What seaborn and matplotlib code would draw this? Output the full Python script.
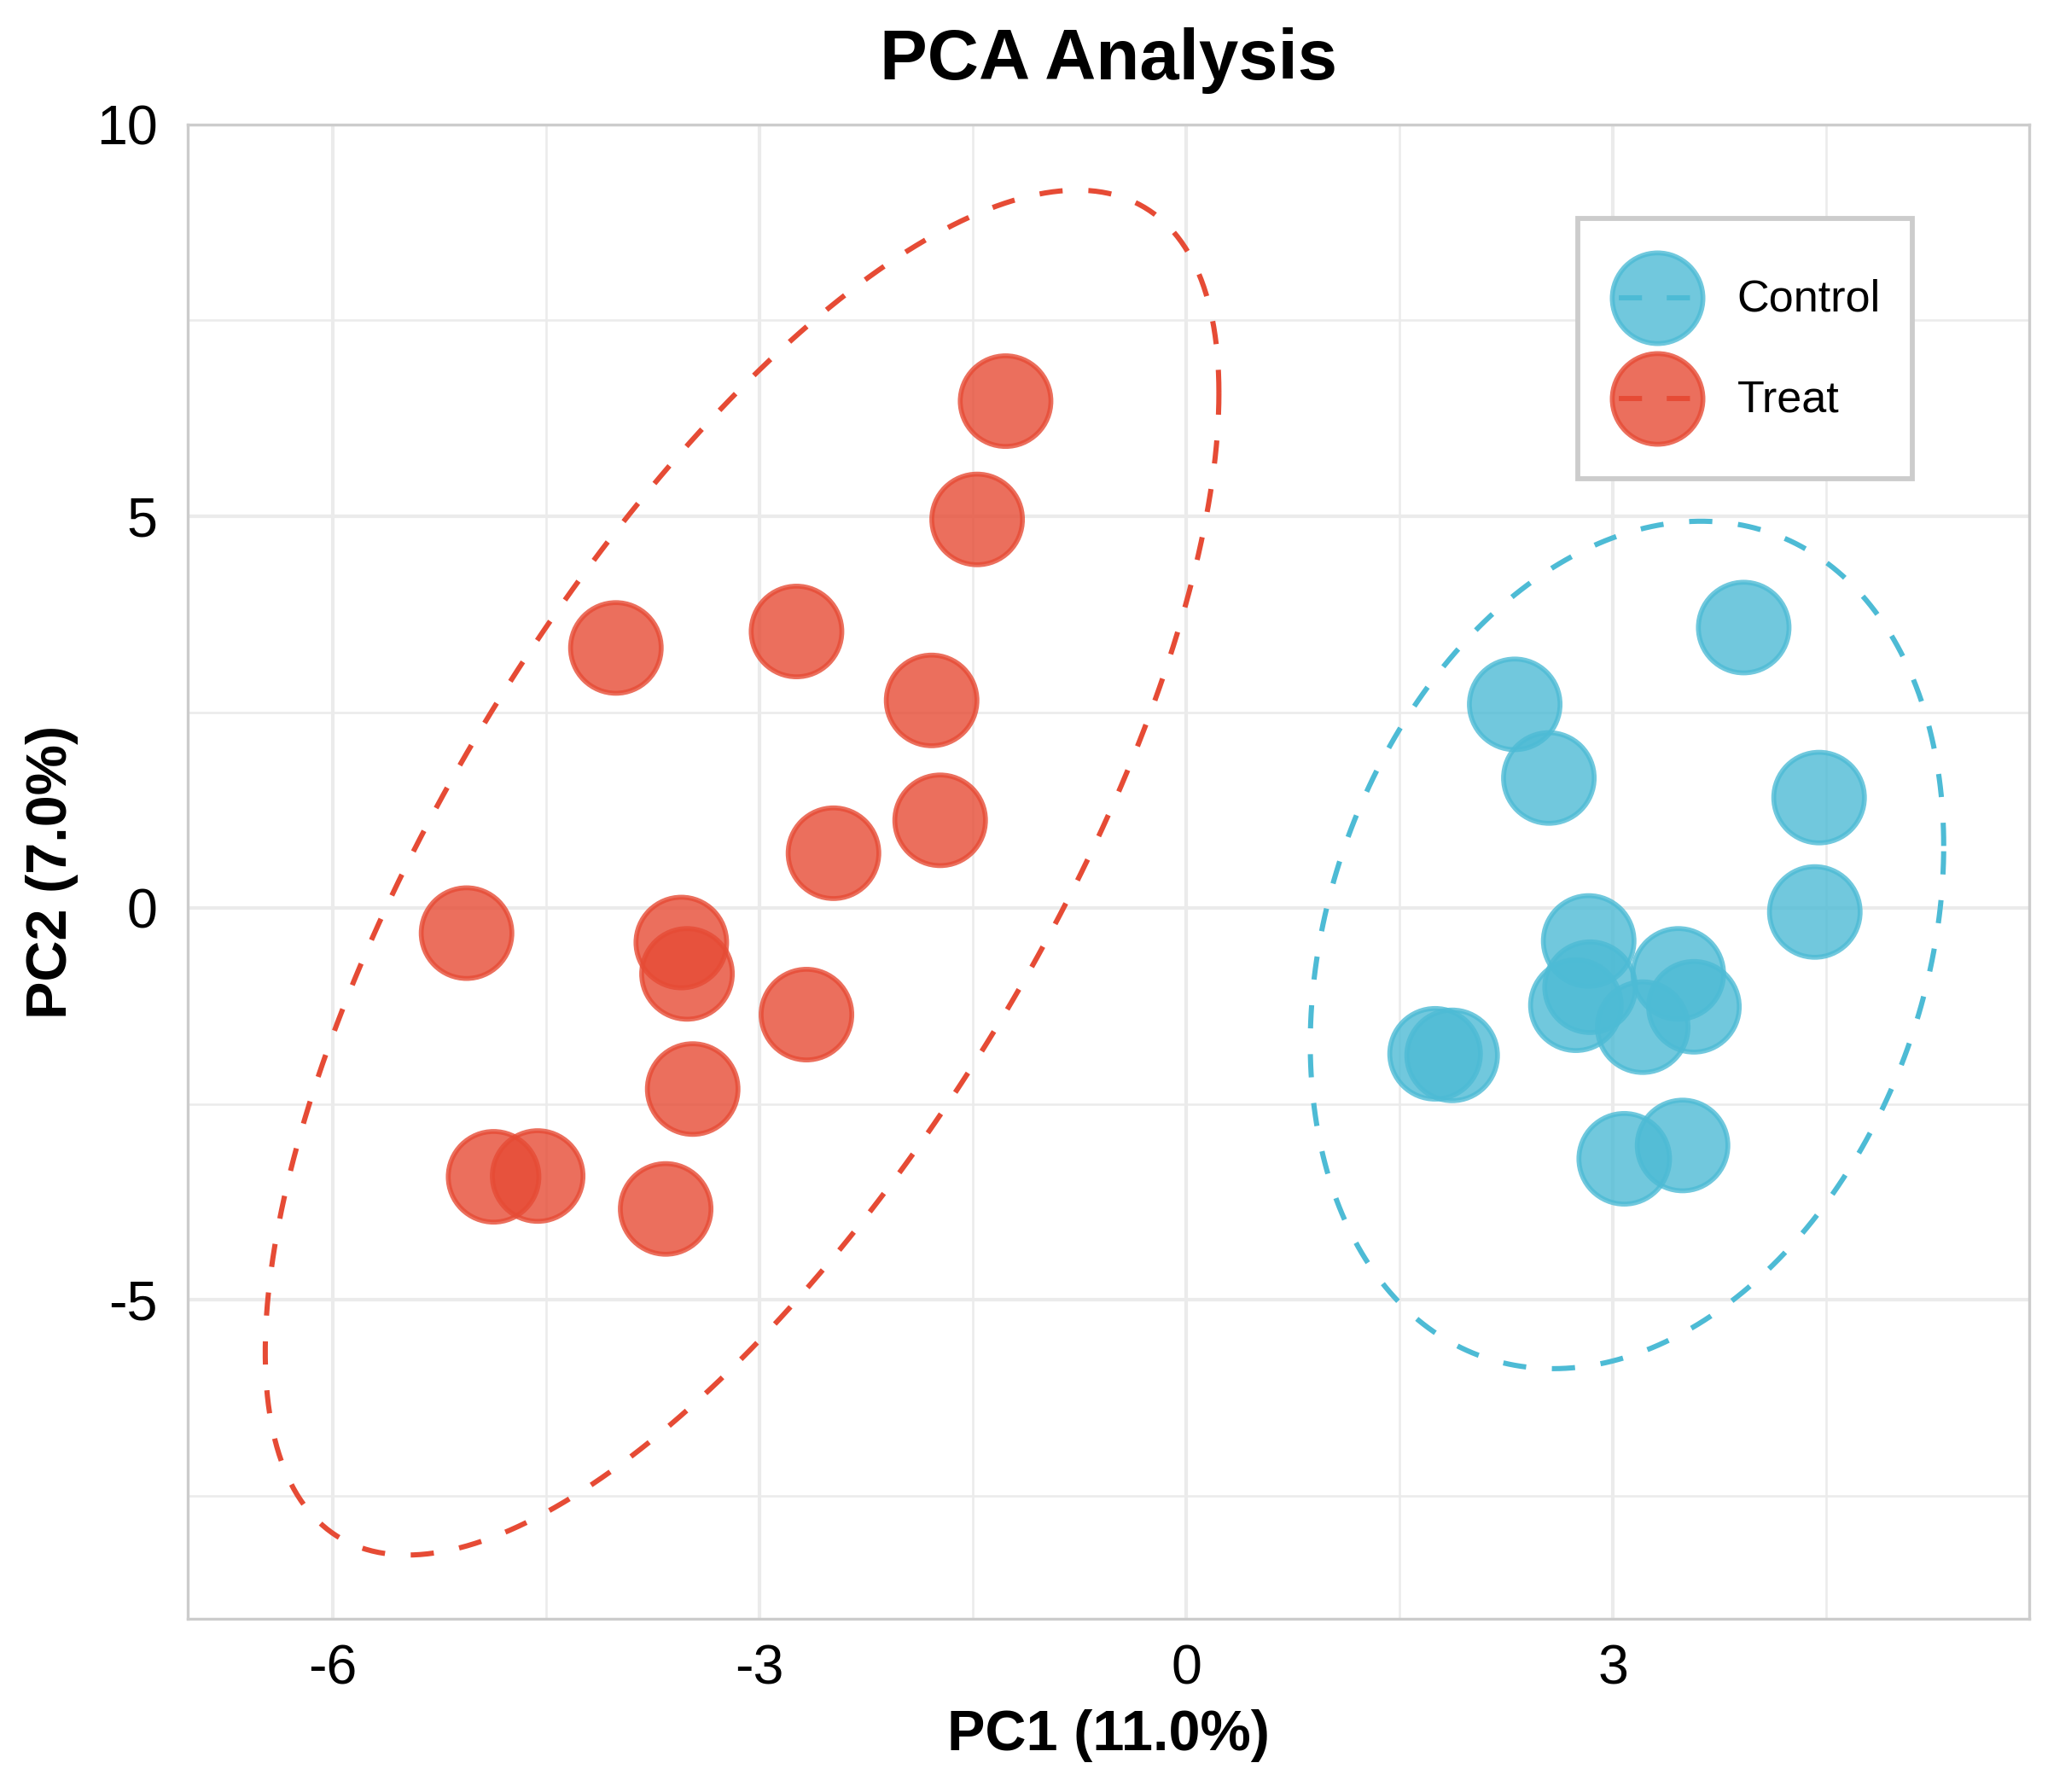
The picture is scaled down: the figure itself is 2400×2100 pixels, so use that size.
import numpy as np
import pandas as pd
import matplotlib
matplotlib.use("Agg")
import matplotlib.pyplot as plt
from matplotlib.lines import Line2D
from matplotlib.legend_handler import HandlerBase
from matplotlib.ticker import MultipleLocator
import seaborn as sns

groups = ["Control", "Treat"]
colors = {"Control": "#4DBBD5", "Treat": "#E64B35"}

control_pc1 = [3.92, 2.31, 2.55, 4.45, 4.42, 2.83, 3.46, 2.84, 2.74, 3.57, 3.21, 1.75, 1.87, 3.49, 3.08]
control_pc2 = [3.58, 2.60, 1.66, 1.41, -0.05, -0.42, -0.84, -1.01, -1.24, -1.26, -1.52, -1.86, -1.88, -3.03, -3.20]

treat_pc1 = [-1.27, -1.47, -2.74, -4.01, -1.79, -1.73, -2.48, -5.06, -3.55, -3.51, -2.67, -3.47, -4.87, -4.56, -3.66]
treat_pc2 = [6.47, 4.96, 3.53, 3.32, 2.65, 1.12, 0.70, -0.32, -0.44, -0.84, -1.36, -2.31, -3.43, -3.42, -3.84]

x_label = "PC1 (11.0%)"
y_label = "PC2 (7.0%)"

df = pd.DataFrame({
    "PC1": control_pc1 + treat_pc1,
    "PC2": control_pc2 + treat_pc2,
    "group": ["Control"] * len(control_pc1) + ["Treat"] * len(treat_pc1),
})


def ellipse_path(x, y, level=0.95, n=300):
    # 95% confidence ellipse, F-based radius like ggplot's stat_ellipse
    pts = np.column_stack([x, y])
    center = pts.mean(axis=0)
    cov = np.cov(pts, rowvar=False)
    dfd = len(x) - 1
    fq = dfd / 2 * ((1 - level) ** (-2 / dfd) - 1)
    radius = np.sqrt(2 * fq)
    t = np.linspace(0, 2 * np.pi, n)
    circle = np.column_stack([np.cos(t), np.sin(t)])
    chol = np.linalg.cholesky(cov)
    return center + radius * circle @ chol.T


class KeyHandler(HandlerBase):
    # point + dashed line key, centred in the key box
    def create_artists(self, legend, orig_handle, xdescent, ydescent,
                       width, height, fontsize, trans):
        marker, line = orig_handle
        yc = height / 2 - ydescent
        x0, x1 = -xdescent, width - xdescent
        m = Line2D([(x0 + x1) / 2], [yc])
        m.update_from(marker)
        l = Line2D([x0, x1], [yc, yc])
        l.update_from(line)
        m.set_transform(trans)
        l.set_transform(trans)
        return [m, l]


sns.set_theme(style="white")
plt.rcParams['font.family'] = ['Liberation Sans', 'DejaVu Sans']
plt.rcParams['axes.unicode_minus'] = False
plt.rcParams['text.color'] = 'black'

fig = plt.figure(figsize=(8, 7), dpi=300)
ax = fig.add_axes([0.0917, 0.0967, 0.8993, 0.8338])

sns.scatterplot(data=df, x="PC1", y="PC2", hue="group", hue_order=groups,
                palette=colors, s=650, alpha=0.8, edgecolor="face",
                linewidth=1.37, legend=False, ax=ax, zorder=3)

for g in groups:
    sub = df[df["group"] == g]
    e = ellipse_path(sub["PC1"].values, sub["PC2"].values)
    ax.plot(e[:, 0], e[:, 1], color=colors[g], lw=1.45,
            linestyle=(0, (4.5, 5.0)), zorder=4)

ax.set_xlim(-7.02, 5.93)
ax.set_ylim(-9.07, 10.0)
ax.xaxis.set_major_locator(MultipleLocator(3))
ax.xaxis.set_minor_locator(MultipleLocator(1.5))
ax.yaxis.set_major_locator(MultipleLocator(5))
ax.yaxis.set_minor_locator(MultipleLocator(2.5))
ax.set_axisbelow(True)
ax.grid(which="major", color="#EBEBEB", lw=1.0)
ax.grid(which="minor", color="#EBEBEB", lw=0.6)
for sp in ax.spines.values():
    sp.set_visible(True)
    sp.set_color("#CCCCCC")
    sp.set_linewidth(0.8)

ax.tick_params(axis="both", which="both", length=0, labelsize=15.5, labelcolor="black")
ax.tick_params(axis="x", pad=7)
ax.tick_params(axis="y", pad=8.5)

ax.set_xlabel(x_label, fontsize=16, fontweight="bold", labelpad=4, color="black")
ax.set_ylabel(y_label, fontsize=16, fontweight="bold", labelpad=5, color="black")
ax.set_title("PCA Analysis", fontsize=20, fontweight="bold", pad=12.7, color="black")

handles = []
for g in groups:
    m = Line2D([], [], marker="o", linestyle="none", markersize=25.5,
               markerfacecolor=colors[g], markeredgecolor=colors[g],
               markeredgewidth=1.37, alpha=0.8)
    l = Line2D([], [], color=colors[g], lw=1.45, linestyle=(7.47, (4.5, 4.8)))
    handles.append((m, l))

leg = ax.legend(handles, groups,
                handler_map={tuple: KeyHandler()},
                loc="upper left", bbox_to_anchor=(0.7704, 0.8781),
                bbox_transform=fig.transFigure, borderaxespad=0,
                fontsize=12.5, handlelength=2.15, handleheight=2.93,
                labelspacing=0.11, borderpad=0.72, handletextpad=0.71,
                frameon=True, fancybox=False, framealpha=1)
leg.get_frame().set_edgecolor("#CCCCCC")
leg.get_frame().set_linewidth(1.4)
for t in leg.get_texts():
    t.set_color("black")

fig.savefig("out.png", dpi=300)
